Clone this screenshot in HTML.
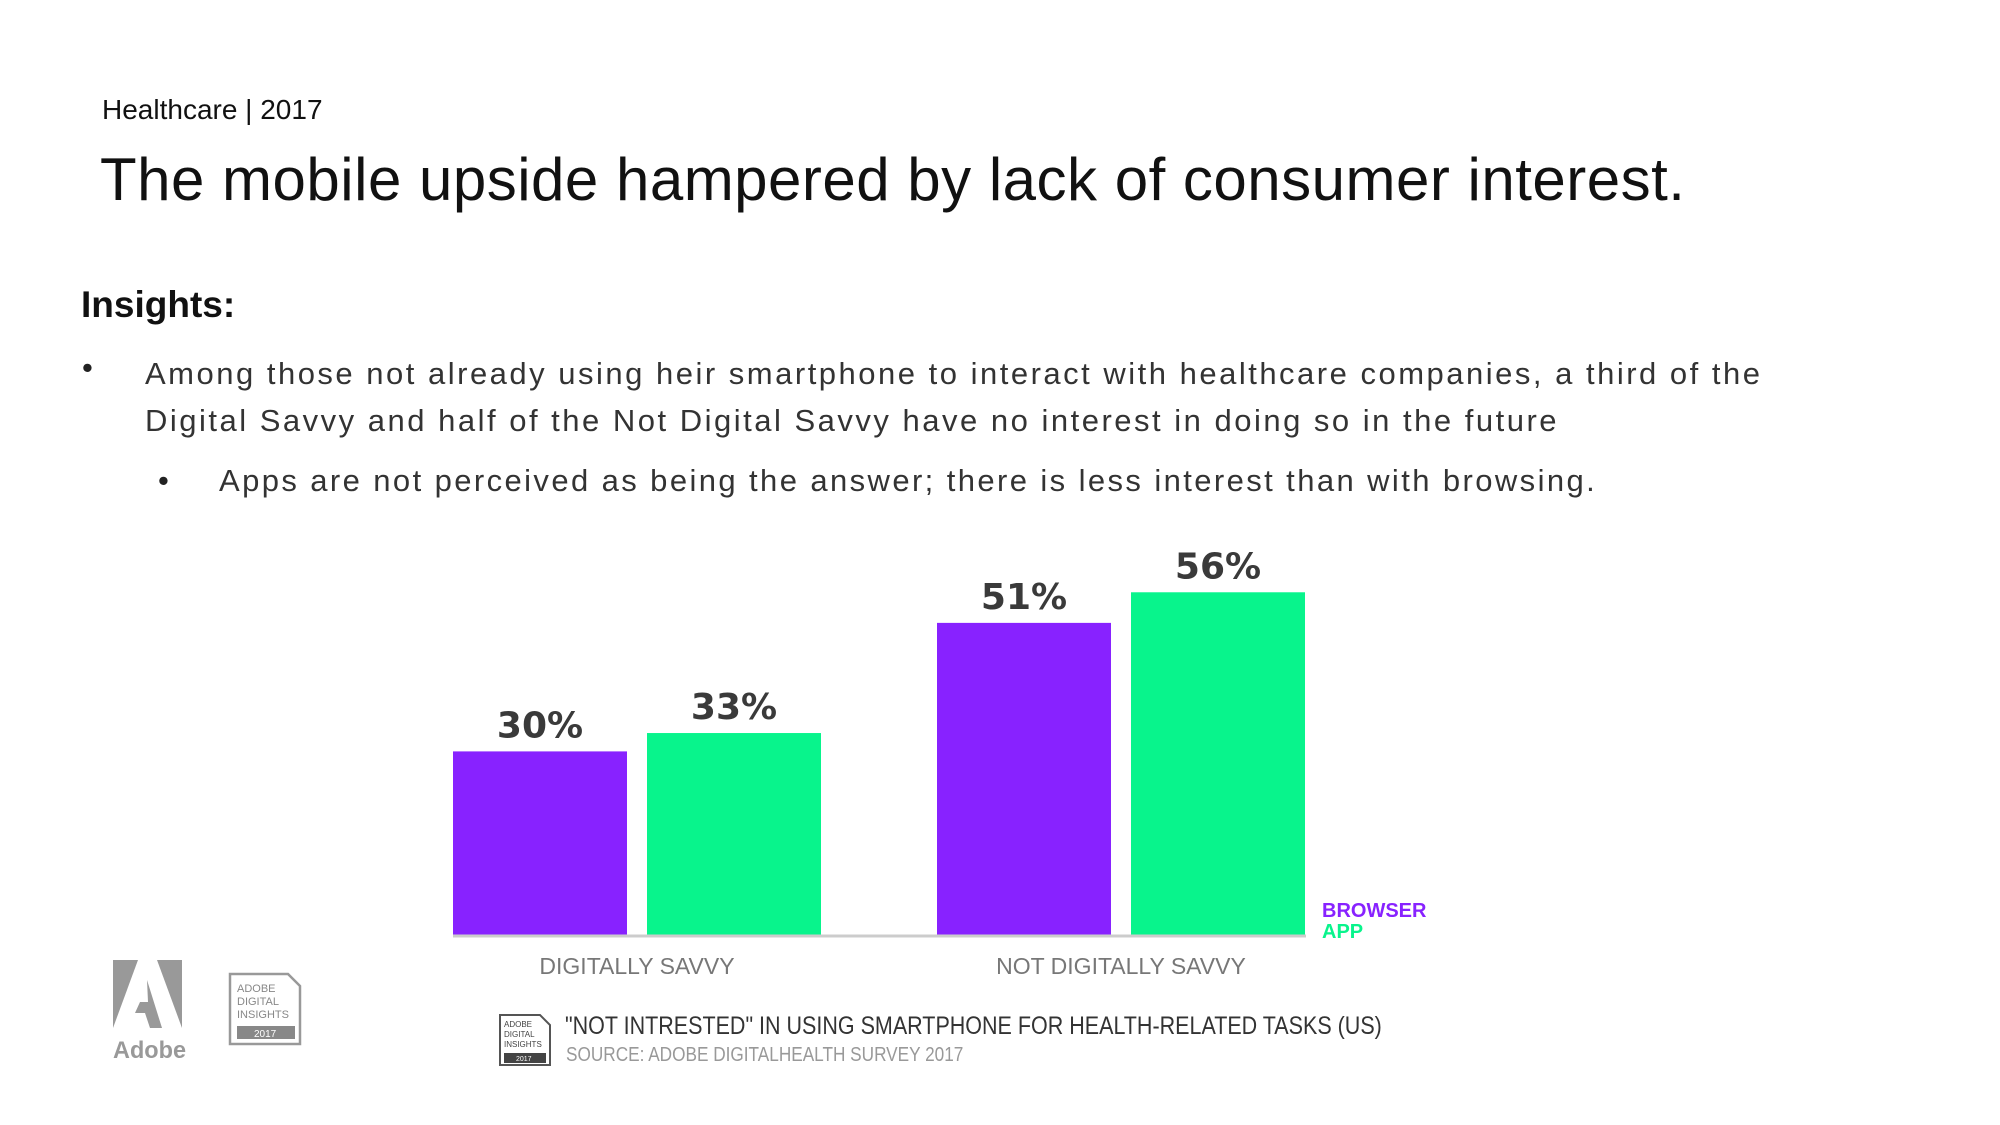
<!DOCTYPE html>
<html><head><meta charset="utf-8"><style>
body{margin:0;width:2000px;height:1125px;background:#fff;position:relative;overflow:hidden;font-family:"Liberation Sans",sans-serif;}
.t{position:absolute;white-space:nowrap;}
</style></head><body>
<div class="t" style="left:102px;top:94px;font-size:28px;color:#111;">Healthcare | 2017</div>
<div class="t" style="left:100px;top:145px;font-size:60px;color:#111;letter-spacing:0.5px;">The mobile upside hampered by lack of consumer interest.</div>
<div class="t" style="left:81px;top:284px;font-size:37px;font-weight:bold;color:#111;">Insights:</div>
<div class="t" style="left:82px;top:350px;font-size:31px;color:#222;">•</div>
<div class="t" style="left:145px;top:350px;font-size:31px;line-height:47px;color:#333;letter-spacing:2.5px;">Among those not already using heir smartphone to interact with healthcare companies, a third of the<br>Digital Savvy and half of the Not Digital Savvy have no interest in doing so in the future</div>
<div class="t" style="left:158px;top:463px;font-size:31px;color:#222;">•</div>
<div class="t" style="left:219px;top:463px;font-size:31px;color:#333;letter-spacing:2.4px;">Apps are not perceived as being the answer; there is less interest than with browsing.</div>

<svg id="chart" width="2000" height="1125" style="position:absolute;left:0;top:0;"></svg>

<svg style="position:absolute;left:110px;top:958px;" width="80" height="105">
<polygon points="3,2 28,2 3,70" fill="#999"/><polygon points="47,2 72,2 72,70" fill="#999"/><polygon points="37,22 52,70 40,70 35,55 25,55 30,44 38,44" fill="#999"/>
<text x="3" y="100" font-family="Liberation Sans,sans-serif" font-size="24" font-weight="bold" fill="#999" textLength="73" lengthAdjust="spacingAndGlyphs">Adobe</text></svg>
<svg style="position:absolute;left:228px;top:972px;" width="76" height="74">
<path d="M2,2 H60 L72,14 V72 H2 Z" fill="#fff" stroke="#999" stroke-width="2.5"/>
<text x="9" y="20" font-size="11" fill="#888" font-family="Liberation Sans,sans-serif">ADOBE</text>
<text x="9" y="33" font-size="11" fill="#888" font-family="Liberation Sans,sans-serif">DIGITAL</text>
<text x="9" y="46" font-size="11" fill="#888" font-family="Liberation Sans,sans-serif">INSIGHTS</text>
<rect x="9" y="54" width="58" height="13" fill="#888"/><text x="26" y="65" font-size="10" fill="#fff" font-family="Liberation Sans,sans-serif">2017</text></svg>
<svg style="position:absolute;left:498px;top:1013px;" width="55" height="54">
<path d="M2,2 H42 L52,12 V52 H2 Z" fill="#fff" stroke="#555" stroke-width="2"/>
<text x="6" y="14" font-size="8" fill="#444" font-family="Liberation Sans,sans-serif">ADOBE</text>
<text x="6" y="24" font-size="8" fill="#444" font-family="Liberation Sans,sans-serif">DIGITAL</text>
<text x="6" y="34" font-size="8" fill="#444" font-family="Liberation Sans,sans-serif">INSIGHTS</text>
<rect x="6" y="40" width="42" height="10" fill="#444"/><text x="18" y="48" font-size="7" fill="#fff" font-family="Liberation Sans,sans-serif">2017</text></svg>
<div class="t" style="left:565px;top:1012px;font-size:25px;color:#333;transform:scaleX(0.86);transform-origin:0 0;">"NOT INTRESTED" IN USING SMARTPHONE FOR HEALTH-RELATED TASKS (US)</div>
<div class="t" style="left:566px;top:1044px;font-size:20px;color:#999;transform:scaleX(0.86);transform-origin:0 0;">SOURCE: ADOBE DIGITALHEALTH SURVEY 2017</div>

<script>
const categories = ["DIGITALLY SAVVY", "NOT DIGITALLY SAVVY"];
const browserValues = [30, 51];
const appValues = [33, 56];
const valueLabels = ["30%", "51%", "33%", "56%"];
const seriesNames = ["BROWSER", "APP"];

const NS = "http://www.w3.org/2000/svg";
const svg = document.getElementById("chart");
const baseY = 935, pxPerPct = 6.12;
const groupX = [453, 937], barW = 174, gap = 20;
function y(v){ return baseY - v * pxPerPct; }
function mk(tag, attrs){ const e = document.createElementNS(NS, tag); for (const k in attrs) e.setAttribute(k, attrs[k]); svg.appendChild(e); return e; }
const series = [browserValues, appValues];
const colors = ["#8822ff", "#08f48c"];
series.forEach((vals, s) => {
  vals.forEach((v, i) => {
    const x = groupX[i] + s * (barW + gap);
    const r = mk("rect", {x: x, y: y(v), width: barW, height: v * pxPerPct, fill: colors[s]});
    
    
    const t = mk("text", {x: x + barW / 2, y: y(v) - 14, "text-anchor": "middle", "font-size": 36, "font-weight": "bold", fill: "#3a3a3a", "font-family": "DejaVu Sans, sans-serif"});
    t.textContent = valueLabels[s * 2 + i];
    
    
  });
});
const axis = mk("line", {x1: 453, x2: 1306, y1: baseY + 1, y2: baseY + 1, stroke: "#ccc", "stroke-width": 3});


categories.forEach((c, i) => {
  const t = mk("text", {x: groupX[i] + barW + gap / 2, y: 974, "text-anchor": "middle", "font-size": 23, fill: "#777", "font-family": "Liberation Sans, sans-serif"});
  t.textContent = c;
  
  
});
seriesNames.forEach((n, s) => {
  const t = mk("text", {x: 1322, y: 917 + s * 21, "font-size": 20, "font-weight": "bold", fill: colors[s], "font-family": "Liberation Sans, sans-serif"});
  t.textContent = n;
  
  
});
</script>
</body></html>
